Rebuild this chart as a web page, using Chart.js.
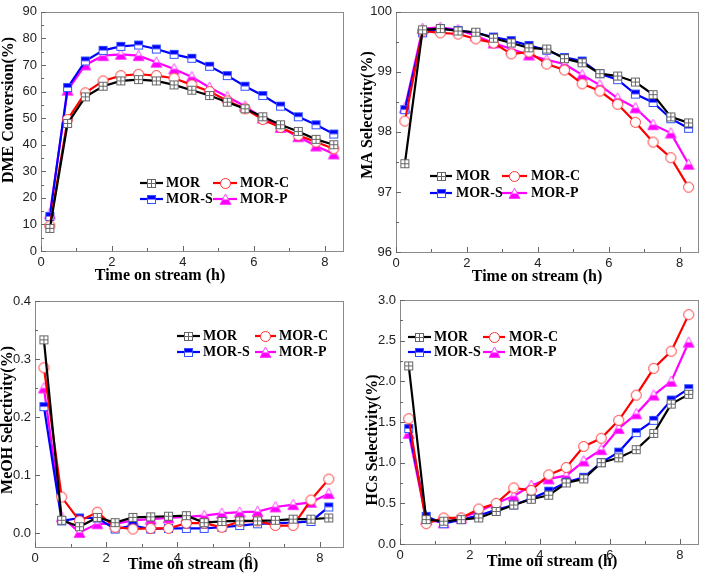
<!DOCTYPE html>
<html><head><meta charset="utf-8">
<script src="https://cdn.jsdelivr.net/npm/chart.js@4.4.0/dist/chart.umd.min.js"></script>
<style>
body{margin:0;background:#fff;width:705px;height:573px;overflow:hidden;position:relative}
canvas{position:absolute}
</style></head><body>
<canvas id="c1"></canvas><canvas id="c2"></canvas><canvas id="c3"></canvas><canvas id="c4"></canvas>
<script>
// ---------- DATA ----------
const timeH = [0.25,0.75,1.25,1.75,2.25,2.75,3.25,3.75,4.25,4.75,5.25,5.75,6.25,6.75,7.25,7.75,8.25];
const seriesNames = ['MOR','MOR-C','MOR-S','MOR-P'];

const dmeMOR  = [8.5,48,58,62,64,64.5,64,62.5,60.5,58.5,56,53.5,50.5,47.5,45,42,40];
const dmeMORC = [9.5,49.5,59.5,64,66,66.5,66,65,62.5,60,56.5,53.5,49.5,46.5,43.5,41,38.5];
const dmeMORS = [13,61.5,71.5,75.5,77,77.5,76,74,72.5,69.5,66,62,58.5,54.5,50.5,47.5,44];
const dmeMORP = [14,60.5,70,73.5,74,73.5,71,68.5,65.5,61.5,58,54.5,50,46.5,43,39.5,36.5];

const maMOR  = [97.47,99.70,99.72,99.68,99.66,99.56,99.48,99.40,99.38,99.22,99.15,98.97,98.93,98.83,98.62,98.25,98.15];
const maMORC = [98.18,99.68,99.65,99.63,99.55,99.48,99.30,99.33,99.13,99.03,98.80,98.68,98.46,98.16,97.83,97.57,97.08];
const maMORS = [98.37,99.65,99.72,99.69,99.65,99.58,99.52,99.44,99.36,99.24,99.18,98.97,98.87,98.63,98.49,98.22,98.06];
const maMORP = [98.40,99.72,99.74,99.70,99.60,99.48,99.38,99.28,99.20,99.13,98.95,98.78,98.56,98.40,98.12,97.98,97.46];

const meohMOR  = [0.333,0.022,0.011,0.027,0.018,0.027,0.028,0.029,0.030,0.018,0.020,0.021,0.021,0.022,0.024,0.024,0.026];
const meohMORC = [0.285,0.062,0.021,0.036,0.010,0.007,0.008,0.008,0.017,0.017,0.010,0.020,0.021,0.013,0.013,0.057,0.093];
const meohMORS = [0.218,0.021,0.026,0.026,0.007,0.013,0.007,0.008,0.008,0.008,0.010,0.013,0.016,0.017,0.018,0.020,0.045];
const meohMORP = [0.250,0.028,0.001,0.016,0.016,0.022,0.024,0.026,0.028,0.030,0.034,0.036,0.037,0.045,0.049,0.053,0.068];

const hcMOR  = [2.19,0.30,0.28,0.30,0.32,0.40,0.48,0.55,0.60,0.75,0.80,1.00,1.06,1.16,1.36,1.72,1.84];
const hcMORC = [1.54,0.25,0.32,0.32,0.43,0.50,0.69,0.66,0.85,0.94,1.20,1.30,1.52,1.83,2.16,2.37,2.82];
const hcMORS = [1.42,0.34,0.25,0.30,0.35,0.42,0.48,0.56,0.65,0.76,0.82,1.00,1.13,1.37,1.52,1.77,1.91];
const hcMORP = [1.36,0.30,0.26,0.32,0.40,0.50,0.59,0.72,0.80,0.84,1.02,1.16,1.42,1.60,1.83,2.00,2.48];

const xTickVals = [0,2,4,6,8];
const xTickLabels = ['0','2','4','6','8'];
const yTicks1 = [0,10,20,30,40,50,60,70,80,90];
const yLabels1 = ['0','10','20','30','40','50','60','70','80','90'];
const yTicks2 = [96,97,98,99,100];
const yLabels2 = ['96','97','98','99','100'];
const yTicks3 = [0,0.1,0.2,0.3,0.4];
const yLabels3 = ['0.0','0.1','0.2','0.3','0.4'];
const yTicks4 = [0,0.5,1,1.5,2,2.5,3];
const yLabels4 = ['0.0','0.5','1.0','1.5','2.0','2.5','3.0'];

const xTitle = 'Time on stream (h)';
const yTitles = ['DME Conversion(%)','MA Selectivity(%)','MeOH Selectivity(%)','HCs Selectivity(%)'];

// ---------- STYLE ----------
const lineColors = ['#000000','#ff0000','#0000ff','#ff00ff'];

function makeMarker(kind){
  const s = 13, c = document.createElement('canvas');
  c.width = s; c.height = s;
  const g = c.getContext('2d');
  g.lineWidth = 1;
  if(kind === 0){ // square with cross, grey
    g.fillStyle = '#fff'; g.fillRect(2.5,2.5,8,8);
    g.strokeStyle = '#666'; g.strokeRect(2.5,2.5,8,8);
    g.beginPath(); g.moveTo(6.5,2.5); g.lineTo(6.5,10.5); g.moveTo(2.5,6.5); g.lineTo(10.5,6.5); g.stroke();
  } else if(kind === 1){ // open circle red
    g.beginPath(); g.arc(6.5,6.5,5,0,Math.PI*2);
    g.fillStyle = '#fff'; g.fill();
    g.strokeStyle = '#ff3030'; g.stroke();
  } else if(kind === 2){ // half-filled square blue (top)
    g.fillStyle = '#fff'; g.fillRect(2,2,9,9);
    g.fillStyle = '#0000ff'; g.fillRect(2,2,9,4.5);
    g.strokeStyle = '#3050ff'; g.strokeRect(2.5,2.5,8,8);
  } else { // half-filled triangle magenta (bottom)
    g.beginPath(); g.moveTo(6.5,1); g.lineTo(12,11.5); g.lineTo(1,11.5); g.closePath();
    g.fillStyle = '#fff'; g.fill();
    g.save(); g.clip();
    g.fillStyle = '#ff00ff'; g.fillRect(0,6.5,13,5);
    g.restore();
    g.strokeStyle = '#ff40ff'; g.stroke();
  }
  return c;
}
const markers = [0,1,2,3].map(makeMarker);

// ---------- PLUGINS ----------
const framePlugin = {
  id: 'frameTicks',
  beforeDatasetsDraw(chart, args, opts){
    const {ctx, chartArea:a} = chart;
    const xs = chart.scales.x, ys = chart.scales.y;
    ctx.save();
    ctx.strokeStyle = '#8a8a8a'; ctx.lineWidth = 1;
    ctx.strokeRect(Math.round(a.left)+0.5, Math.round(a.top)+0.5, Math.round(a.right-a.left), Math.round(a.bottom-a.top));
    ctx.strokeStyle = '#666';
    ctx.beginPath();
    const xm = opts.xMajor, ym = opts.yMajor;
    xm.forEach((v,i)=>{
      const px = Math.round(xs.getPixelForValue(v))+0.5;
      ctx.moveTo(px, a.bottom); ctx.lineTo(px, a.bottom-5);
      if(i < xm.length-1){
        const pm = Math.round(xs.getPixelForValue((v+xm[i+1])/2))+0.5;
        ctx.moveTo(pm, a.bottom); ctx.lineTo(pm, a.bottom-3);
      }
    });
    ym.forEach((v,i)=>{
      const py = Math.round(ys.getPixelForValue(v))+0.5;
      ctx.moveTo(a.left, py); ctx.lineTo(a.left+5, py);
      if(i < ym.length-1){
        const pm = Math.round(ys.getPixelForValue((v+ym[i+1])/2))+0.5;
        ctx.moveTo(a.left, pm); ctx.lineTo(a.left+3, pm);
      }
    });
    ctx.stroke();
    ctx.restore();
  }
};

const legendPlugin = {
  id: 'innerLegend',
  afterDraw(chart, args, opts){
    const ctx = chart.ctx;
    ctx.save();
    ctx.font = 'bold 14px "Liberation Serif", "Times New Roman", serif';
    ctx.textBaseline = 'middle';
    ctx.fillStyle = '#000';
    chart.data.datasets.forEach((ds,i)=>{
      const col = i % 2, row = Math.floor(i/2);
      const c = opts.cols[col], y = opts.rows[row];
      ctx.strokeStyle = ds.borderColor; ctx.lineWidth = 2.2;
      ctx.beginPath(); ctx.moveTo(c[0], y); ctx.lineTo(c[1], y); ctx.stroke();
      const m = markers[i];
      ctx.drawImage(m, Math.round((c[0]+c[1])/2 - m.width/2), Math.round(y - m.height/2));
      ctx.fillText(ds.label, c[2], y+0.5);
    });
    ctx.restore();
  }
};

const titlePlugin = {
  id: 'axisTitles',
  afterDraw(chart, args, opts){
    const ctx = chart.ctx;
    ctx.save();
    ctx.fillStyle = '#000';
    ctx.textAlign = 'center'; ctx.textBaseline = 'middle';
    ctx.font = 'bold 16px "Liberation Serif", "Times New Roman", serif';
    ctx.fillText(opts.xText, opts.xPos[0], opts.xPos[1]);
    ctx.translate(opts.yPos[0], opts.yPos[1]);
    ctx.rotate(-Math.PI/2);
    ctx.fillText(opts.yText, 0, 0);
    ctx.restore();
  }
};

// ---------- BUILD ----------
function buildChart(id, cv, area, xMax, yMin, yMax, yTicks, yLabels, data, yTitle, xTitlePos, yTitlePos, legendCols, legendRows){
  const el = document.getElementById(id);
  el.width = cv[2]; el.height = cv[3];
  el.style.left = cv[0]+'px'; el.style.top = cv[1]+'px';
  el.style.width = cv[2]+'px'; el.style.height = cv[3]+'px';
  const off = (p)=>[p[0]-cv[0], p[1]-cv[1]];
  const datasets = data.map((vals,i)=>({
    label: seriesNames[i],
    data: timeH.map((t,j)=>({x:t, y:vals[j]})),
    borderColor: lineColors[i],
    borderWidth: 2.2,
    pointStyle: markers[i],
    pointRadius: 5,
    tension: 0,
    fill: false
  }));
  const tickFont = {family:'"Liberation Sans", Arial, sans-serif', size:13};
  return new Chart(el, {
    type: 'line',
    data: {datasets},
    options: {
      responsive: false, animation: false, devicePixelRatio: 1,
      layout: {padding: {left:0, top: area[1]-cv[1], right: cv[0]+cv[2]-area[2], bottom: 0}},
      plugins: {
        legend: {display:false}, tooltip: {enabled:false},
        frameTicks: {xMajor: xTickVals, yMajor: yTicks},
        innerLegend: {cols: legendCols.map(c=>[c[0]-cv[0], c[1]-cv[0], c[2]-cv[0]]), rows: legendRows.map(r=>r-cv[1])},
        axisTitles: {xText: xTitle, yText: yTitle, xPos: off(xTitlePos), yPos: off(yTitlePos)}
      },
      scales: {
        x: {
          type: 'linear', min: 0, max: xMax,
          grid: {display:false, drawTicks:false}, border: {display:false},
          afterBuildTicks: s => { s.ticks = xTickVals.map(v=>({value:v})); },
          afterFit: s => { s.height = cv[1]+cv[3]-area[3]; },
          ticks: {font: tickFont, color:'#222', padding: 4, maxRotation:0, autoSkip:false,
                  callback: (v)=> xTickLabels[xTickVals.indexOf(v)]}
        },
        y: {
          type: 'linear', min: yMin, max: yMax,
          grid: {display:false, drawTicks:false}, border: {display:false},
          afterBuildTicks: s => { s.ticks = yTicks.map(v=>({value:v})); },
          afterFit: s => { s.width = area[0]-cv[0]; },
          ticks: {font: tickFont, color:'#222', padding: 4, autoSkip:false,
                  callback: (v)=> { const k = yTicks.findIndex(t=>Math.abs(t-v)<1e-9); return k>=0 ? yLabels[k] : ''; }}
        }
      }
    },
    plugins: [framePlugin, legendPlugin, titlePlugin]
  });
}

buildChart('c1', [0,0,352,285], [41,7,343,251], 8.51, 0, 90, yTicks1, yLabels1,
  [dmeMOR,dmeMORC,dmeMORS,dmeMORP], yTitles[0], [160,276], [9,110],
  [[140,163,166],[213,237,240]], [183,199]);

buildChart('c2', [355,0,350,285], [396,9,698,252], 8.51, 96, 100, yTicks2, yLabels2,
  [maMOR,maMORC,maMORS,maMORP], yTitles[1], [537,277], [368,115],
  [[430,452,456],[502,527,531]], [176,193]);

buildChart('c3', [0,285,352,288], [35,301,343,547], 8.65, -0.024, 0.4, yTicks3, yLabels3,
  [meohMOR,meohMORC,meohMORS,meohMORP], yTitles[2], [193,565], [8,420],
  [[177,200,203],[255,276,279]], [336,352]);

buildChart('c4', [355,285,350,288], [400,300,703,544], 8.51, 0, 3.0, yTicks4, yLabels4,
  [hcMOR,hcMORC,hcMORS,hcMORP], yTitles[3], [552,562], [373,440],
  [[408,431,434],[483,505,509]], [337,352]);
</script>
</body></html>
